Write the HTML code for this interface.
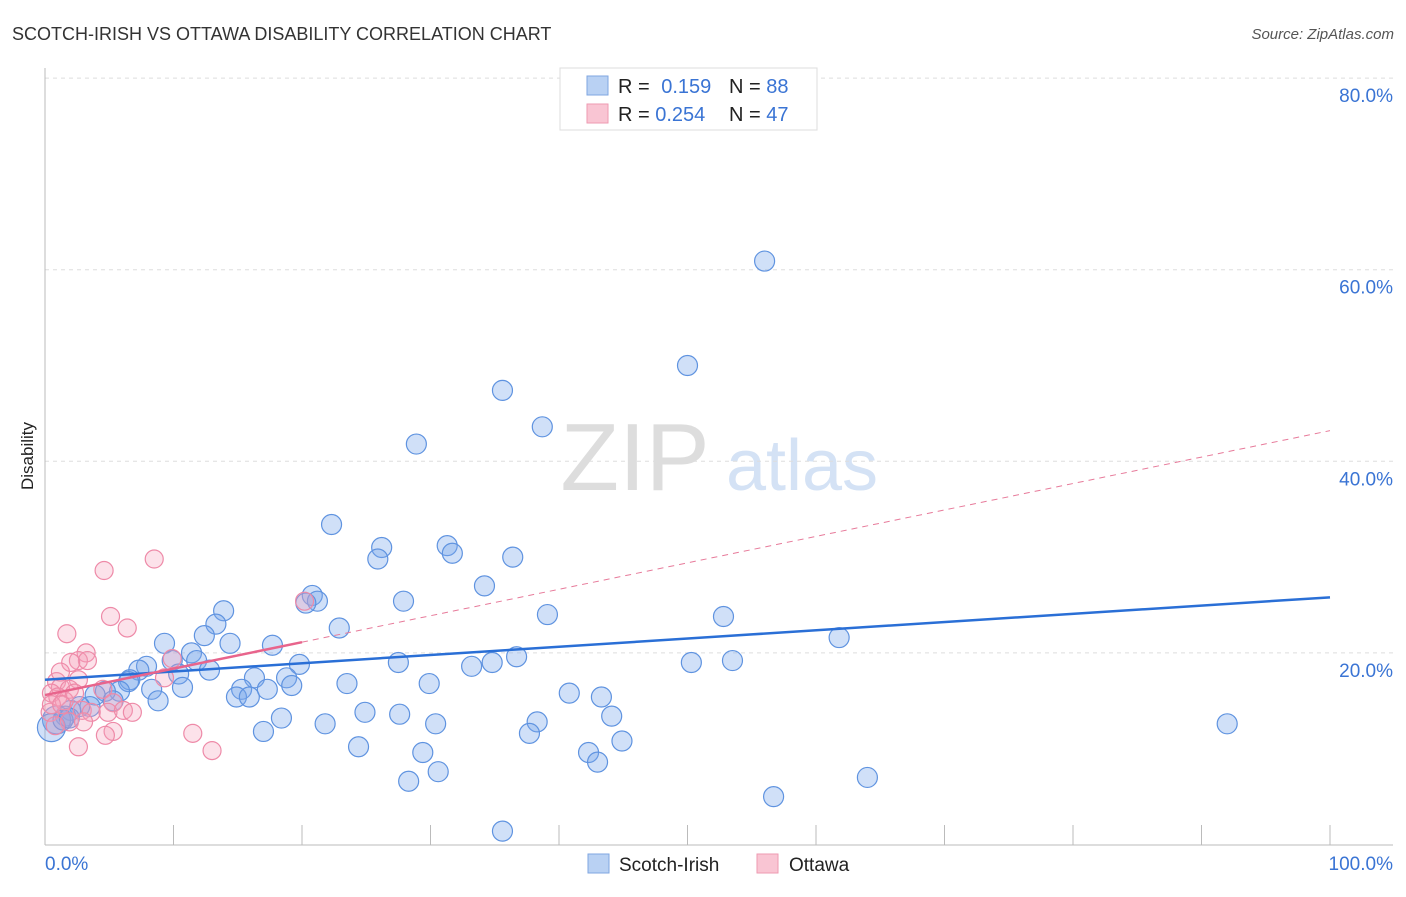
<!DOCTYPE html>
<html><head><meta charset="utf-8"><style>
body{margin:0;background:#fff;font-family:"Liberation Sans",sans-serif;}
svg text{font-family:"Liberation Sans",sans-serif;}
</style></head><body>
<svg width="1406" height="892" viewBox="0 0 1406 892">
<text x="12" y="40" font-size="18" fill="#333">SCOTCH-IRISH VS OTTAWA DISABILITY CORRELATION CHART</text>
<text x="1394" y="39" font-size="15" fill="#555" text-anchor="end" font-style="italic">Source: ZipAtlas.com</text>
<text x="0" y="0" transform="translate(33,456) rotate(-90)" font-size="17" fill="#222" text-anchor="middle">Disability</text>
<g>
<text x="635" y="490" font-size="96" fill="#ddd" text-anchor="middle" font-family="Liberation Serif, serif">ZIP</text>
<text x="802" y="490" font-size="72" fill="#d4e2f5" text-anchor="middle">atlas</text>
</g>
<g id="grid"></g>
<g id="axes"></g>
<g id="marks"></g>
<g id="trends"></g>
<g>
<rect x="560" y="68" width="257" height="62" fill="#fff" stroke="#ddd"/>
<rect x="587" y="76" width="21" height="19" fill="#b9d1f3" stroke="#7fa6e0"/>
<rect x="587" y="104" width="21" height="19" fill="#f9c5d3" stroke="#ee9ab2"/>
<text x="618" y="93" font-size="20" fill="#222">R = <tspan fill="#3a74d4" dx="6">0.159</tspan></text>
<text x="729" y="93" font-size="20" fill="#222">N = <tspan fill="#3a74d4">88</tspan></text>
<text x="618" y="121" font-size="20" fill="#222">R = <tspan fill="#3a74d4">0.254</tspan></text>
<text x="729" y="121" font-size="20" fill="#222">N = <tspan fill="#3a74d4">47</tspan></text>
</g>
<g>
<rect x="588" y="854" width="21" height="19" fill="#b9d1f3" stroke="#7fa6e0"/>
<text x="619" y="871" font-size="19" fill="#222">Scotch-Irish</text>
<rect x="757" y="854" width="21" height="19" fill="#f9c5d3" stroke="#ee9ab2"/>
<text x="789" y="871" font-size="19" fill="#222">Ottawa</text>
</g>
</svg>
<script>
const blueX=[56.0,50.0,35.6,38.7,28.9,22.3,26.2,25.9,31.3,31.7,36.4,34.2,27.9,20.8,21.2,20.3,39.1,52.8,61.8,13.9,13.3,22.9,17.7,14.4,12.4,9.3,11.4,11.8,9.9,7.9,7.3,12.8,6.6,6.5,19.8,27.5,36.7,34.8,33.2,50.3,53.5,16.3,18.8,10.4,8.3,8.8,10.7,15.3,14.9,15.9,17.3,19.2,23.5,29.9,40.8,43.3,5.8,4.7,3.9,5.3,3.5,2.7,2.0,1.6,0.9,0.5,18.4,24.9,27.6,44.1,30.4,21.8,38.3,17.0,37.7,44.9,24.4,42.3,43.0,29.4,30.6,28.3,64.0,56.7,35.6,92.0,1.4,1.9];
const blueY=[60.9,50.0,47.4,43.6,41.8,33.4,31.0,29.8,31.2,30.4,30.0,27.0,25.4,26.0,25.4,25.2,24.0,23.8,21.6,24.4,23.0,22.6,20.8,21.0,21.8,21.0,20.0,19.2,19.2,18.6,18.2,18.2,17.2,17.0,18.8,19.0,19.6,19.0,18.6,19.0,19.2,17.4,17.4,17.8,16.2,15.0,16.4,16.2,15.4,15.4,16.2,16.6,16.8,16.8,15.8,15.4,16.0,16.0,15.6,15.0,14.4,14.4,14.0,13.4,13.0,12.2,13.2,13.8,13.6,13.4,12.6,12.6,12.8,11.8,11.6,10.8,10.2,9.6,8.6,9.6,7.6,6.6,7.0,5.0,1.4,12.6,13.0,13.2];
const pinkX=[8.5,4.6,5.1,6.4,1.7,20.2,3.2,9.9,2.6,3.3,2.0,2.6,9.3,0.9,1.2,1.9,0.5,1.0,1.5,2.3,4.5,5.3,2.9,3.6,4.9,6.1,6.8,0.4,1.9,3.0,0.8,5.3,4.7,2.6,11.5,13.0,1.2,0.5,1.3];
const pinkY=[29.8,28.6,23.8,22.6,22.0,25.4,20.0,19.4,19.2,19.2,19.0,17.2,17.4,17.0,16.4,16.2,15.8,15.4,15.0,15.8,16.2,14.8,14.0,13.8,13.8,14.0,13.8,13.8,12.8,12.8,12.4,11.8,11.4,10.2,11.6,9.8,18.0,14.6,14.6];
const trendBlue=[17.2,25.8];
const trendPink=[15.6,43.2];
const yTicks=[20,40,60,80];
const xTickVals=[0,10,20,30,40,50,60,70,80,90,100];
const NS='http://www.w3.org/2000/svg';
const X0=45,X1=1330,YB=844.5,PY=9.58;
const sx=v=>X0+(X1-X0)*v/100, sy=v=>YB-v*PY;
function mk(t,a,p){const e=document.createElementNS(NS,t);for(const k in a)e.setAttribute(k,a[k]);document.getElementById(p).appendChild(e);return e;}
yTicks.forEach(t=>{
 const l=mk('line',{x1:45,x2:1393,y1:sy(t),y2:sy(t),stroke:'#ddd','stroke-dasharray':'4,4'},'grid');
 
 
 const tx=mk('text',{x:1393,y:sy(t)+24,'font-size':19,fill:'#3a74d4','text-anchor':'end'},'grid');
 tx.textContent=t.toFixed(1)+'%';
 
 
});
let a=mk('line',{x1:45,x2:45,y1:68,y2:845,stroke:'#bbb'},'axes');


a=mk('line',{x1:45,x2:1393,y1:845,y2:845,stroke:'#bbb'},'axes');


xTickVals.forEach(t=>{
 const l=mk('line',{x1:sx(t),x2:sx(t),y1:825,y2:845,stroke:'#bbb'},'axes');
 
 
});
[[0,'0.0%','start',45],[100,'100.0%','end',1393]].forEach(d=>{
 const tx=mk('text',{x:d[3],y:870,'font-size':19,fill:'#3a74d4','text-anchor':d[2]},'axes');
 tx.textContent=d[1];
 
 
});
blueX.forEach((x,i)=>{
 const c=mk('circle',{cx:sx(x),cy:sy(blueY[i]),r:(x<1?14:10),fill:'rgba(120,165,235,0.35)',stroke:'#5f93e0','stroke-width':1.2},'marks');
 
 
});
pinkX.forEach((x,i)=>{
 const c=mk('circle',{cx:sx(x),cy:sy(pinkY[i]),r:9,fill:'rgba(245,160,185,0.3)',stroke:'#ee8aa8','stroke-width':1.2},'marks');
 
 
});
const pAt=x=>trendPink[0]+(trendPink[1]-trendPink[0])*x/100;
let t=mk('line',{x1:sx(0),y1:sy(trendBlue[0]),x2:sx(100),y2:sy(trendBlue[1]),stroke:'#2a6fd6','stroke-width':2.5},'trends');


t=mk('line',{x1:sx(20),y1:sy(pAt(20)),x2:sx(100),y2:sy(pAt(100)),stroke:'#e77a9a','stroke-width':1,'stroke-dasharray':'6,5'},'trends');


t=mk('line',{x1:sx(0),y1:sy(pAt(0)),x2:sx(20),y2:sy(pAt(20)),stroke:'#e8648c','stroke-width':2.5},'trends');


</script>
</body></html>
